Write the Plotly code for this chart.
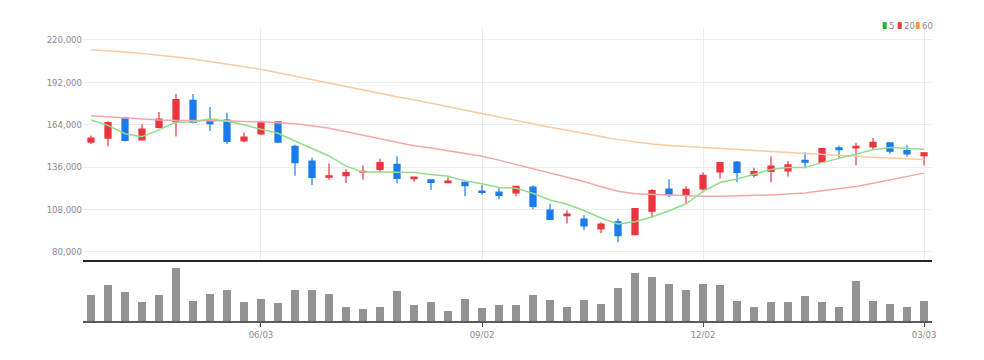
import pandas as pd
import plotly.graph_objects as go

# ---------------- data ----------------
start_date = "2024-03-25"
n_weeks = 50
dates = pd.date_range(start_date, periods=n_weeks, freq="7D")

open_ = [152500, 155100, 168700, 154000, 162200, 165900, 180000, 166800, 167000, 153300,
         157900, 165900, 149700, 140000, 129300, 130400, 132600, 134500, 137800, 128300,
         127600, 125700, 125900, 120200, 119400, 119000, 122700, 107500, 104000, 101700,
         95200, 99900, 91300, 106900, 121500, 117300, 121500, 132800, 139300, 130600,
         133200, 133500, 140400, 139300, 148600, 148600, 149300, 151900, 146900, 143600]
high = [156850, 166300, 169200, 164200, 172400, 184300, 184300, 175700, 171800, 158800,
        166600, 166300, 150800, 142100, 138400, 134500, 137100, 141500, 143200, 129800,
        127600, 129300, 126700, 124100, 122700, 123300, 123800, 111800, 107500, 104300,
        99500, 102100, 109000, 121500, 128000, 123300, 132400, 139300, 140000, 135600,
        143200, 140000, 145800, 148600, 150100, 151900, 155100, 152300, 150800, 145800]
low = [151200, 149700, 153000, 153600, 161600, 156200, 164800, 159800, 151200, 152300,
       157200, 151900, 130200, 124100, 127600, 125400, 127600, 132400, 125200, 126300,
       120900, 125200, 116800, 117900, 114700, 116800, 108200, 101400, 98800, 94500,
       92300, 86300, 90800, 102500, 116200, 111800, 120500, 128500, 125900, 129100,
       125900, 129800, 135200, 138900, 142100, 137100, 147500, 144900, 142800, 137100]
close = [155100, 165300, 153600, 161100, 167600, 180600, 165500, 164600, 153000, 155700,
         165900, 152500, 138900, 129100, 130200, 132400, 133200, 138900, 128500, 129300,
         125900, 126700, 123800, 119200, 117300, 123300, 110100, 101400, 104900, 97100,
         98400, 90700, 108600, 120500, 117700, 121200, 130600, 138900, 132400, 133000,
         136700, 137400, 139300, 148200, 147500, 149700, 152300, 146500, 144700, 145400]

ma5 = [167000, 163500, 158000, 156000, 160540, 165640, 165680, 167880, 166260, 163880,
       160940, 158340, 153200, 148420, 143320, 136620, 132760, 132760, 132640, 132460,
       131160, 129860, 126840, 124980, 122580, 122060, 118740, 114260, 111400, 107360,
       102380, 98500, 99940, 103060, 107180, 111740, 119720, 125780, 128160, 131220,
       134320, 135680, 135760, 138920, 141820, 144420, 147400, 148840, 148140, 147720]
ma20 = [169800, 169100, 168100, 167400, 167100, 166800, 166800, 166600, 166500, 166100,
        165900, 165200, 164500, 163200, 161600, 159300, 157000, 154800, 152200, 150050,
        148590, 146660, 145170, 143075, 140560, 137695, 134925, 131765, 129360, 126430,
        123055, 119965, 118450, 118020, 117395, 116835, 116705, 116705, 116900, 117085,
        117625, 118160, 118935, 120385, 121895, 123215, 125325, 127580, 129570, 131985]
ma60 = [213500, 212900, 211900, 210900, 209900, 208600, 207300, 205700, 204100, 202500,
        200500, 198300, 196000, 193700, 191400, 189200, 186900, 184600, 182400, 180400,
        178100, 175900, 173600, 171300, 169100, 166800, 164500, 162200, 160300, 158000,
        156100, 154100, 152500, 151200, 150200, 149600, 148900, 148300, 147600, 147000,
        146300, 145700, 145000, 144400, 143700, 143100, 142400, 141800, 141500, 141000]

volume = [270, 370, 293, 193, 270, 543, 203, 277, 320, 193,
          220, 187, 320, 320, 277, 143, 127, 143, 303, 160,
          193, 103, 227, 137, 160, 160, 270, 210, 143, 210,
          170, 337, 487, 453, 377, 320, 377, 370, 203, 143,
          193, 193, 253, 193, 143, 403, 203, 170, 143, 203]

tick_dates = ["2024-06-03", "2024-09-02", "2024-12-02", "2025-03-03"]
tick_labels = ["06/03", "09/02", "12/02", "03/03"]
price_ticks = [80000, 108000, 136000, 164000, 192000, 220000]

legend_names = ["5", "20", "60"]
legend_colors = ["#22b82a", "#ee3b3b", "#f39a3c"]
ma_colors = ["#93dc8a", "#f5a7a7", "#f9c9a0"]

# ---------------- figure ----------------
FONT = "Liberation Sans Narrow, DejaVu Sans Condensed, Liberation Sans, sans-serif"
FS = 9.5
UP = "#ea3540"
DOWN = "#1a7cec"

fig = go.Figure()

for vals, col, nm in zip([ma60, ma20, ma5], ma_colors[::-1], legend_names[::-1]):
    fig.add_trace(go.Scatter(x=dates, y=vals, mode="lines", name=nm,
                             line=dict(color=col, width=1.5), showlegend=False,
                             xaxis="x2", yaxis="y2", hoverinfo="skip"))

fig.add_trace(go.Candlestick(
    x=dates, open=open_, high=high, low=low, close=close,
    increasing=dict(line=dict(color=UP, width=1.2), fillcolor=UP),
    decreasing=dict(line=dict(color=DOWN, width=1.2), fillcolor=DOWN),
    showlegend=False, xaxis="x2", yaxis="y2"))

week_ms = 7 * 24 * 3600 * 1000
fig.add_trace(go.Bar(x=dates, y=volume, marker=dict(color="#939393", line=dict(width=0)),
                     width=0.49 * week_ms, showlegend=False, xaxis="x", yaxis="y"))

pad = pd.Timedelta(days=0.47 * 7)
xr = [dates[0] - pad, dates[-1] + pad]

# page body has an 8px margin, so the figure is sized to fit the 984x360 window
fig.update_layout(
    width=968, height=344,
    margin=dict(l=75, r=44, t=20, b=26),
    paper_bgcolor="white", plot_bgcolor="white",
    font=dict(family=FONT, size=FS, color="#8a8a8a"),
    boxgap=0.49,
    bargap=0,
    xaxis=dict(range=xr, type="date", domain=[0, 1], anchor="y",
               tickvals=tick_dates, ticktext=tick_labels,
               showgrid=False, zeroline=False,
               showline=True, linecolor="#5a5a5a", linewidth=2,
               ticks="outside", ticklen=4, tickcolor="#444", tickwidth=1,
               tickfont=dict(family=FONT, size=FS, color="#8a8a8a")),
    yaxis=dict(domain=[0, 0.188], range=[0, 560], showgrid=False, zeroline=False,
               showticklabels=False, fixedrange=True),
    xaxis2=dict(range=xr, type="date", anchor="y2", matches="x",
                tickvals=tick_dates, showticklabels=False,
                showgrid=True, gridcolor="#ececec", gridwidth=1,
                showline=True, linecolor="#222222", linewidth=2,
                rangeslider=dict(visible=False), zeroline=False),
    yaxis2=dict(domain=[0.2081, 1], range=[74624, 227788],
                tickvals=price_ticks, tickformat=",",
                showgrid=True, gridcolor="#ececec", gridwidth=1,
                zeroline=False, showline=False, ticks="",
                tickfont=dict(family=FONT, size=FS, color="#8a8a8a")),
    showlegend=False,
)

# legend (color squares + text)
sq_x = [0.9419, 0.9596, 0.9808]
tx_x = [0.9470, 0.9647, 0.9859]
for nm, col, sx, tx in zip(legend_names, legend_colors, sq_x, tx_x):
    fig.add_shape(type="rect", xref="paper", yref="paper",
                  x0=sx, x1=sx + 0.0047, y0=0.9966, y1=1.0201,
                  fillcolor=col, line=dict(width=0))
    fig.add_annotation(xref="paper", yref="paper", x=tx, y=1.0077,
                       text=nm, showarrow=False, xanchor="left", yanchor="middle",
                       font=dict(family=FONT, size=FS, color="#8a8a8a"))

fig.write_html("out.html")
